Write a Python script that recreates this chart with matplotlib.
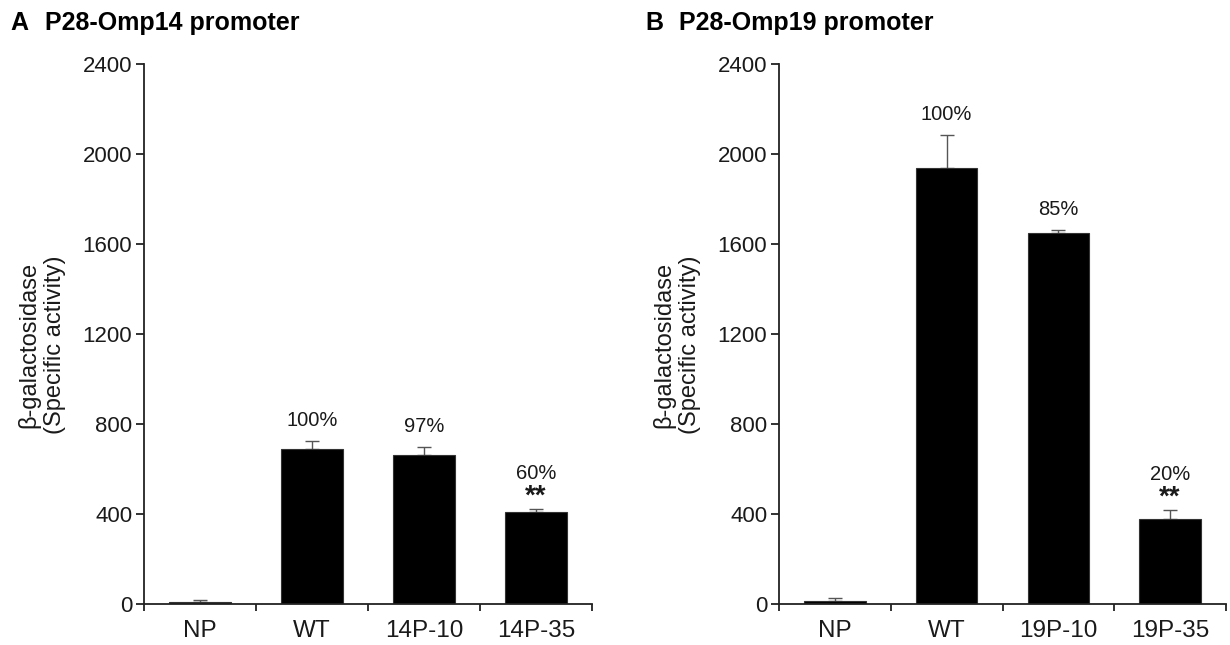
import matplotlib
matplotlib.use("Agg")
import matplotlib.pyplot as plt
import numpy as np

plt.rcParams['font.family'] = ['Liberation Sans', 'DejaVu Sans']

# ---- data ----
cats_a = ["NP", "WT", "14P-10", "14P-35"]
vals_a = [10, 689, 662, 409]
errs_a = [8, 35, 36, 13]
pct_a = ["", "100%", "97%", "60%"]
sig_a = ["", "", "", "**"]

cats_b = ["NP", "WT", "19P-10", "19P-35"]
vals_b = [15, 1938, 1649, 378]
errs_b = [13, 146, 13, 40]
pct_b = ["", "100%", "85%", "20%"]
sig_b = ["", "", "", "**"]

yticks = [0, 400, 800, 1200, 1600, 2000, 2400]
titles = [("A", "P28-Omp14 promoter"), ("B", "P28-Omp19 promoter")]

W, H = 1230, 645
fig = plt.figure(figsize=(W / 100, H / 100), dpi=100)

def px(x0, y0, x1, y1):
    return [x0 / W, 1 - y1 / H, (x1 - x0) / W, (y1 - y0) / H]

axA = fig.add_axes(px(144, 64, 592, 604))
axB = fig.add_axes(px(779, 64, 1226, 604))

txt_col = '#1a1a1a'

def panel(ax, cats, vals, errs, pcts, sigs):
    x = np.arange(len(cats))
    ax.bar(x, vals, width=0.55, color='black', edgecolor='#333333',
           linewidth=0.8, zorder=2)
    lower = np.zeros(len(vals))
    ax.errorbar(x, vals, yerr=[lower, errs], fmt='none', ecolor='#555555',
                elinewidth=1.0, capsize=4.7, capthick=1.0, zorder=1)
    ax.set_xlim(-0.5, len(cats) - 0.5)
    ax.set_ylim(0, 2400)
    ax.set_yticks(yticks)
    ax.set_yticklabels([str(t) for t in yticks])
    ax.set_xticks(x)
    ax.set_xticklabels(cats)
    ax.set_xticks(np.arange(len(cats) + 1) - 0.5, minor=True)
    ax.tick_params(axis='x', which='major', length=0, pad=11.5,
                   labelsize=17.5, labelcolor=txt_col)
    ax.tick_params(axis='x', which='minor', length=5, width=1.3,
                   direction='out', color='#222222')
    ax.tick_params(axis='y', which='major', length=6, width=1.3,
                   direction='out', pad=2.5, labelsize=16,
                   labelcolor=txt_col, color='#222222')
    for s in ['top', 'right']:
        ax.spines[s].set_visible(False)
    for s in ['left', 'bottom']:
        ax.spines[s].set_linewidth(1.3)
        ax.spines[s].set_color('#222222')
    for xi, v, e, p, s in zip(x, vals, errs, pcts, sigs):
        top = v + e
        if s:
            ax.annotate(s, (xi, top), xytext=(0, 9.0), textcoords='offset points',
                        ha='center', va='center', fontsize=20,
                        fontweight='bold', color=txt_col)
            ax.annotate(p, (xi, top), xytext=(0, 25.5), textcoords='offset points',
                        ha='center', va='center', fontsize=14.5, color=txt_col)
        elif p:
            ax.annotate(p, (xi, top), xytext=(0, 15), textcoords='offset points',
                        ha='center', va='center', fontsize=14.5, color=txt_col)

panel(axA, cats_a, vals_a, errs_a, pct_a, sig_a)
panel(axB, cats_b, vals_b, errs_b, pct_b, sig_b)

# y labels
for axis_x in (144, 779):
    fig.text((axis_x - 102) / W, 1 - 345 / H,
             "\u03b2-galactosidase\n(Specific activity)",
             rotation=90, ha='center', va='center', fontsize=17,
             color=txt_col, multialignment='center', linespacing=1.2)

# titles
for (letter, name), lx, tx in zip(titles, (10, 645), (45, 679)):
    fig.text(lx / W, 1 - 23 / H, letter, ha='left', va='center',
             fontsize=18, fontweight='bold', color='black')
    fig.text(tx / W, 1 - 23 / H, name, ha='left', va='center',
             fontsize=18, fontweight='bold', color='black')

fig.savefig("out.png", dpi=100, facecolor='white')
